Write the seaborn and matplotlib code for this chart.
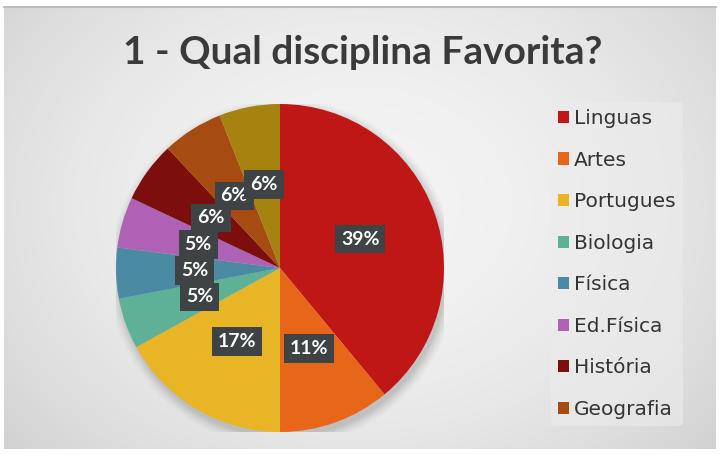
import numpy as np
import matplotlib
matplotlib.use("Agg")
import matplotlib.pyplot as plt
import seaborn as sns

# ---- data ----
categories = ["Linguas", "Artes", "Portugues", "Biologia", "Física",
              "Ed.Física", "História", "Geografia", "Outra"]
values = [39, 11, 17, 5, 5, 5, 6, 6, 6]
legend_names = categories[:8]
title = "1 - Qual disciplina Favorita?"
colors_hex = ["#BF1616", "#E8661A", "#E7B525", "#5EB096", "#4A8AA3",
              "#AE62B6", "#7C0E0E", "#A64B12", "#A6820F"]

sns.set_style("white")
plt.rcParams['font.family'] = ['Lato', 'DejaVu Sans']
palette = sns.color_palette(colors_hex)

W, H = 721, 455
fig = plt.figure(figsize=(W / 100, H / 100), dpi=100)
fig.patch.set_facecolor("white")

# background panel with radial gradient
bx0, bx1, by0, by1 = 4, 716, 7, 449
bg = fig.add_axes([bx0 / W, 1 - by1 / H, (bx1 - bx0) / W, (by1 - by0) / H])
yy, xx = np.mgrid[0:1:200j, 0:1:300j]
d = np.sqrt(((xx - 0.5) / 0.75) ** 2 + ((yy - 0.45) / 0.95) ** 2)
g = 0.955 - 0.17 * np.clip(d, 0, 1) ** 2
bg.imshow(np.dstack([g, g, g]), aspect="auto", extent=[0, 1, 0, 1])
bg.set_axis_off()
fig.add_artist(plt.Line2D([bx0 / W, bx1 / W], [1 - by0 / H, 1 - by0 / H],
                          color="#bdbdbd", lw=1.5))

# title
fig.text(363 / W, 1 - 52 / H, title, ha="center", va="center",
         fontsize=28, fontweight="bold", color="#3a3a3a")

# pie
cx, cy, R = 280, 268, 164
ax = fig.add_axes([(cx - R) / W, 1 - (cy + R) / H, 2 * R / W, 2 * R / H])
ax.set_axis_off()
# soft shadow
for k, a in zip(np.linspace(1.06, 1.0, 8), np.linspace(0.02, 0.06, 8)):
    ax.add_patch(plt.Circle((0.015, -0.03), k, color="#606060", alpha=a, lw=0))
wedges, texts, autotexts = ax.pie(
    values, colors=palette, startangle=90, counterclock=False,
    autopct="%.0f%%", pctdistance=0.52, radius=1,
    wedgeprops=dict(linewidth=0),
    textprops=dict(color="white", fontsize=14, fontweight="bold"))
for t in autotexts:
    t.set_bbox(dict(boxstyle="square,pad=0.3", fc="#3E4346", ec="none"))
ax.set_xlim(-1, 1)
ax.set_ylim(-1, 1)

# legend
handles = wedges[:8]
leg = fig.legend(handles, legend_names, loc="upper left",
                 bbox_to_anchor=(541 / W, 1 - 92 / H),
                 frameon=True, handlelength=0.55, handleheight=0.55,
                 handletextpad=0.25, labelspacing=1.12, borderpad=0.35,
                 labelcolor="#333333",
                 prop=dict(family="DejaVu Sans", size=14.5))
leg.get_frame().set_facecolor("#ececec")
leg.get_frame().set_edgecolor("none")
leg.get_frame().set_alpha(0.6)

fig.savefig("out.png", dpi=100)
